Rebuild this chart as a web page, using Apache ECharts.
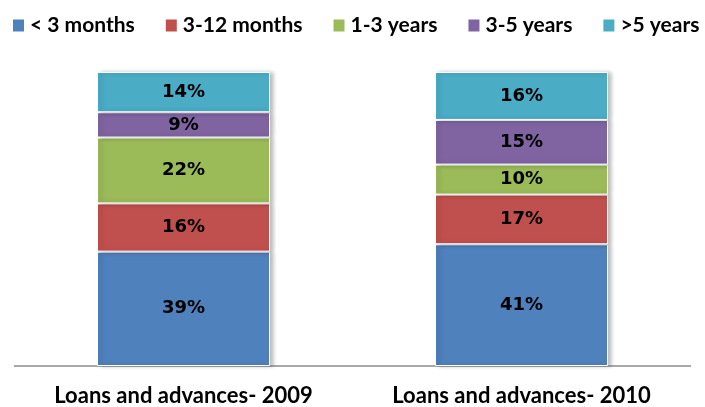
<!DOCTYPE html>
<html>
<head>
<meta charset="utf-8">
<script src="https://cdn.jsdelivr.net/npm/echarts@6/dist/echarts.min.js"></script>
<style>
html,body{margin:0;padding:0;background:#fff;}
#chart{width:705px;height:407px;}
</style>
</head>
<body>
<div id="chart"></div>
<script>
// loans and advances by maturity, share of total (%)
var categories = ['Loans and advances- 2009', 'Loans and advances- 2010'];
var seriesNames = ['< 3 months', '3-12 months', '1-3 years', '3-5 years', '>5 years'];
var colors = ['#4F81BD', '#C0504D', '#9BBB59', '#8064A2', '#4BACC6'];
var lt3m = [38.9, 41.4];
var m3to12 = [16.4, 16.9];
var y1to3 = [22.4, 10.2];
var y3to5 = [8.6, 15.2];
var gt5y = [13.7, 16.3];
var values = [lt3m, m3to12, y1to3, y3to5, gt5y];

var chart = echarts.init(document.getElementById('chart'));

var series = [];
for (var i = 0; i < seriesNames.length; i++) {
	series.push({
		name: seriesNames[i],
		type: 'bar',
		stack: 'total',
		barWidth: 173,
		itemStyle: {
			color: colors[i],
			borderColor: '#fff',
			borderWidth: 1,
			shadowColor: 'rgba(0,0,0,0.25)',
			shadowBlur: 4,
			shadowOffsetX: 3
		},
		label: {
			show: true,
			position: 'inside',
			color: '#000',
			fontFamily: 'DejaVu Sans',
			fontWeight: 'bold',
			fontSize: 18,
			formatter: function (p) { return Math.round(p.value) + '%'; }
		},
		data: values[i]
	});
}

var option = {
	animation: false,
	legend: {
		left: 11,
		top: 15,
		width: 694,
		padding: 0,
		itemWidth: 13,
		itemHeight: 14,
		itemGap: 29,
		icon: 'rect',
		textStyle: {
			fontFamily: 'Lato',
			fontWeight: 'bold',
			fontSize: 21,
			color: '#000'
		},
		data: seriesNames
	},
	grid: {
		left: 14.5,
		right: 14.5,
		top: 72,
		bottom: 40
	},
	xAxis: {
		type: 'category',
		data: categories,
		axisTick: { show: false },
		axisLine: { lineStyle: { color: '#8c8c8c', width: 1.5 } },
		axisLabel: {
			margin: 19,
			color: '#000',
			fontFamily: 'Lato',
			fontWeight: 'bold',
			fontSize: 22
		}
	},
	yAxis: {
		type: 'value',
		min: 0,
		max: 100,
		show: false,
		splitLine: { show: false }
	},
	series: series
};

chart.setOption(option);
</script>
</body>
</html>
